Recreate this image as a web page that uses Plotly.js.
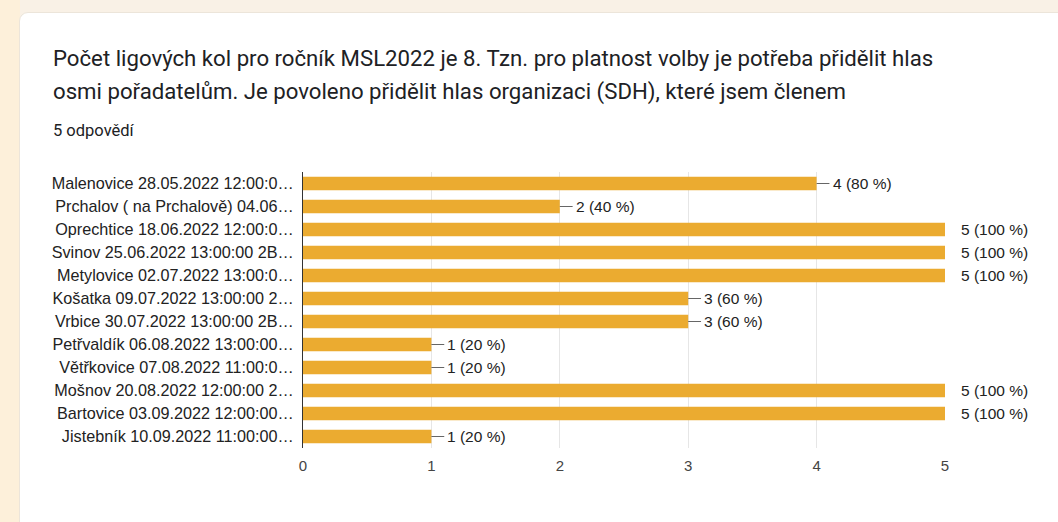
<!DOCTYPE html>
<html>
<head>
<meta charset="utf-8">
<script src="https://cdn.plot.ly/plotly-3.0.1.min.js"></script>
<style>
  html, body { margin: 0; padding: 0; width: 1058px; height: 522px; overflow: hidden; background: #f9f1e6; }
  #left { position: absolute; left: 0; top: 0; width: 20px; height: 522px; background: #fdf0da; }
  #card { position: absolute; left: 19px; top: 12px; width: 1100px; height: 600px; background: #ffffff; border: 1px solid #ece5da; border-radius: 9px; }
  #chart { position: absolute; left: 0; top: 0; width: 1058px; height: 522px; }
</style>
</head>
<body>
<div id="left"></div>
<div id="card"></div>
<div id="chart"></div>
<script>
const categories = [
  "Malenovice 28.05.2022 12:00:0…",
  "Prchalov ( na Prchalově) 04.06…",
  "Oprechtice 18.06.2022 12:00:0…",
  "Svinov 25.06.2022 13:00:00 2B…",
  "Metylovice 02.07.2022 13:00:0…",
  "Košatka 09.07.2022 13:00:00 2…",
  "Vrbice 30.07.2022 13:00:00 2B…",
  "Petřvaldík 06.08.2022 13:00:00…",
  "Větřkovice 07.08.2022 11:00:0…",
  "Mošnov 20.08.2022 12:00:00 2…",
  "Bartovice 03.09.2022 12:00:00…",
  "Jistebník 10.09.2022 11:00:00…"
];
const votes = [4, 2, 5, 5, 5, 3, 3, 1, 1, 5, 5, 1];
const totalResponses = 5;
const titleLines = [
  "Počet ligových kol pro ročník MSL2022 je 8. Tzn. pro platnost volby je potřeba přidělit hlas",
  "osmi pořadatelům. Je povoleno přidělit hlas organizaci (SDH), které jsem členem"
];
const responsesText = "5 odpovědí";
const xTicks = [0, 1, 2, 3, 4, 5];

const W = 1058, H = 522;
const M = { l: 303, r: 113, t: 172, b: 74 };
const pw = W - M.l - M.r, ph = H - M.t - M.b;
// helpers to place page-level text in paper coordinates
const px = x => (x - M.l) / pw;
const py = y => 1 - (y - M.t) / ph;

const xMax = 5;
const LBL = 'Liberation Sans, Arial, sans-serif';
const shapes = [];
const annotations = [];

votes.forEach((v, i) => {
  const pct = Math.round(v / totalResponses * 100);
  if (v < xMax) {
    shapes.push({
      type: 'line', xref: 'x', yref: 'y',
      x0: v, x1: v + 0.1, y0: categories[i], y1: categories[i],
      line: { color: '#666666', width: 1 }
    });
  }
  annotations.push({
    xref: 'x', yref: 'y', x: v, y: categories[i],
    xanchor: 'left', yanchor: 'middle', xshift: 14, showarrow: false,
    text: v + ' (' + pct + ' %)',
    font: { family: LBL, size: 15.5, color: '#222222' }
  });
});

annotations.push(
  { xref: 'paper', yref: 'paper', x: px(51), y: py(58), xanchor: 'left', yanchor: 'middle', showarrow: false,
    text: titleLines[0], font: { family: 'Roboto, sans-serif', size: 22.2, color: '#202124' } },
  { xref: 'paper', yref: 'paper', x: px(51), y: py(91), xanchor: 'left', yanchor: 'middle', showarrow: false,
    text: titleLines[1], font: { family: 'Roboto, sans-serif', size: 22.2, color: '#202124' } },
  { xref: 'paper', yref: 'paper', x: px(51), y: py(130), xanchor: 'left', yanchor: 'middle', showarrow: false,
    text: responsesText, font: { family: 'Roboto, sans-serif', size: 16.5, color: '#202124' } }
);

const trace = {
  type: 'bar', orientation: 'h',
  x: votes, y: categories,
  marker: { color: '#ebab30' },
  hoverinfo: 'none'
};

const layout = {
  width: W, height: H,
  margin: M,
  paper_bgcolor: 'rgba(0,0,0,0)',
  plot_bgcolor: 'rgba(0,0,0,0)',
  showlegend: false,
  bargap: 0.42,
  xaxis: {
    range: [0, xMax], tickvals: xTicks, showgrid: true, gridcolor: '#e6e6e6', gridwidth: 1,
    zeroline: false, showline: false, ticks: '', ticklabelstandoff: 7,
    tickfont: { family: LBL, size: 15, color: '#444444' },
    fixedrange: true
  },
  yaxis: {
    autorange: 'reversed', showgrid: false, zeroline: false,
    showline: true, linecolor: '#333333', linewidth: 1,
    ticks: '', ticklabelstandoff: 5,
    tickfont: { family: LBL, size: 16.2, color: '#222222' },
    fixedrange: true
  },
  shapes: shapes,
  annotations: annotations
};

Plotly.newPlot('chart', [trace], layout, { displayModeBar: false, staticPlot: true });
</script>
</body>
</html>
